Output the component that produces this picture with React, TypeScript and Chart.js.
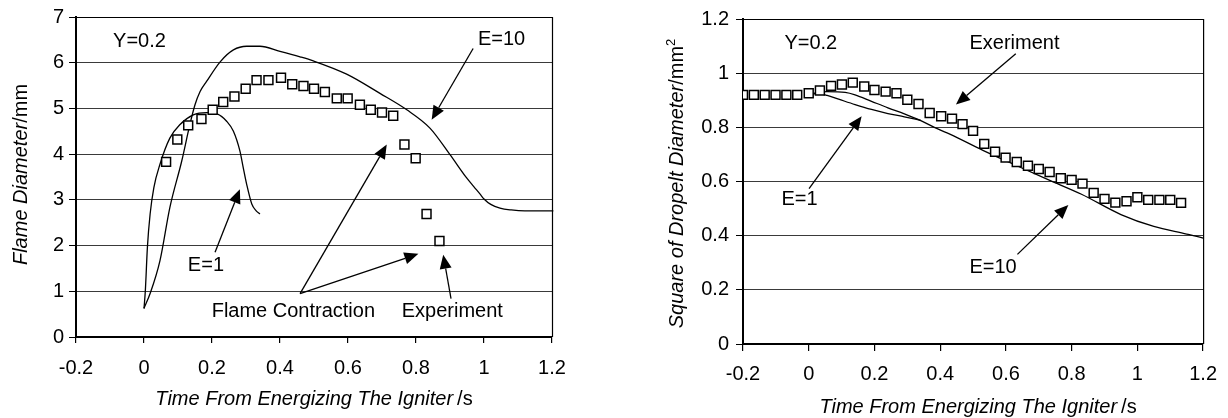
import React, { useEffect, useRef } from 'react';
import { Chart, registerables } from 'chart.js';

Chart.register(...registerables);

const FONT = "'Liberation Sans', Arial, Helvetica, sans-serif";

// ---------- Left chart: flame diameter ----------
const flameExpTime = [0.065, 0.098, 0.13, 0.169, 0.202, 0.233, 0.266, 0.299, 0.331, 0.366, 0.403, 0.436, 0.469, 0.5, 0.532, 0.567, 0.599, 0.635, 0.667, 0.7, 0.733, 0.766, 0.799, 0.831, 0.869];
const flameExpDiam = [3.83, 4.32, 4.63, 4.77, 4.97, 5.14, 5.26, 5.43, 5.62, 5.62, 5.67, 5.53, 5.49, 5.43, 5.36, 5.22, 5.22, 5.08, 4.97, 4.91, 4.84, 4.21, 3.91, 2.69, 2.1];

const flameE1Time = [0, 0.004, 0.01, 0.018, 0.029, 0.047, 0.076, 0.106, 0.145, 0.184, 0.215, 0.243, 0.263, 0.282, 0.292, 0.302, 0.317, 0.33, 0.341];
const flameE1Diam = [0.62, 1.02, 1.96, 2.69, 3.27, 3.78, 4.35, 4.65, 4.86, 4.91, 4.88, 4.72, 4.5, 4.07, 3.7, 3.34, 2.91, 2.76, 2.69];

const flameE10Time = [0, 0.018, 0.047, 0.076, 0.111, 0.135, 0.15, 0.165, 0.184, 0.224, 0.263, 0.302, 0.341, 0.4, 0.459, 0.498, 0.596, 0.694, 0.773, 0.841, 0.9, 0.949, 0.97, 0.988, 1.0, 1.02, 1.047, 1.08, 1.12, 1.16, 1.204, 1.218];
const flameE10Diam = [0.63, 0.95, 1.67, 2.83, 3.85, 4.65, 5.08, 5.37, 5.59, 6.02, 6.28, 6.36, 6.36, 6.25, 6.13, 6.04, 5.75, 5.33, 4.97, 4.57, 3.99, 3.48, 3.29, 3.13, 3.02, 2.9, 2.82, 2.78, 2.76, 2.76, 2.76, 2.8];

const flameYTicks = [0, 1, 2, 3, 4, 5, 6, 7];
const flameYTickLabels = ['0', '1', '2', '3', '4', '5', '6', '7'];

// ---------- Right chart: square of droplet diameter ----------
const dropExpTime = [-0.2, -0.167, -0.134, -0.101, -0.068, -0.035, 0, 0.034, 0.068, 0.101, 0.134, 0.169, 0.2, 0.234, 0.267, 0.3, 0.334, 0.368, 0.403, 0.436, 0.468, 0.5, 0.534, 0.567, 0.599, 0.633, 0.667, 0.7, 0.733, 0.767, 0.8, 0.833, 0.867, 0.9, 0.933, 0.967, 1.0, 1.033, 1.067, 1.1, 1.133];
const dropExpSq = [0.92, 0.92, 0.92, 0.92, 0.92, 0.92, 0.926, 0.936, 0.953, 0.958, 0.965, 0.951, 0.938, 0.932, 0.926, 0.902, 0.886, 0.853, 0.841, 0.832, 0.812, 0.787, 0.739, 0.71, 0.688, 0.672, 0.658, 0.646, 0.635, 0.612, 0.606, 0.592, 0.558, 0.536, 0.522, 0.527, 0.542, 0.532, 0.532, 0.532, 0.521];

const dropE1Time = [0, 0.03, 0.056, 0.091, 0.141, 0.191, 0.241, 0.291, 0.341];
const dropE1Sq = [0.923, 0.924, 0.918, 0.904, 0.884, 0.866, 0.851, 0.839, 0.826];

const dropE10Time = [0, 0.056, 0.111, 0.141, 0.191, 0.241, 0.291, 0.341, 0.391, 0.431, 0.53, 0.63, 0.73, 0.83, 0.95, 1.05, 1.15, 1.2, 1.221];
const dropE10Sq = [0.923, 0.932, 0.929, 0.92, 0.896, 0.872, 0.85, 0.825, 0.795, 0.774, 0.715, 0.66, 0.606, 0.553, 0.478, 0.434, 0.406, 0.391, 0.383];

const dropYTicks = [0, 0.2, 0.4, 0.6, 0.8, 1, 1.2];
const dropYTickLabels = ['0', '0.2', '0.4', '0.6', '0.8', '1', '1.2'];

// ---------- Shared x axis ----------
const timeTicks = [-0.2, 0, 0.2, 0.4, 0.6, 0.8, 1, 1.2];
const timeTickLabels = ['-0.2', '0', '0.2', '0.4', '0.6', '0.8', '1', '1.2'];

// ---------- Annotations (data coordinates: left edge / vertical centre of text) ----------
const flameNotes = [
  { text: 'Y=0.2', t: -0.091, v: 6.46 },
  { text: 'E=10', t: 0.982, v: 6.5 },
  { text: 'E=1', t: 0.129, v: 1.565 },
  { text: 'Flame Contraction', t: 0.199, v: 0.565 },
  { text: 'Experiment', t: 0.758, v: 0.565 },
];
const flameArrows = [
  [0.968, 6.31, 0.846, 4.75],
  [0.209, 1.854, 0.282, 3.233],
  [0.459, 0.95, 0.714, 4.21],
  [0.459, 0.95, 0.807, 1.82],
  [0.903, 0.841, 0.88, 1.8],
];
const dropNotes = [
  { text: 'Y=0.2', t: -0.074, v: 1.109 },
  { text: 'Exeriment', t: 0.489, v: 1.109 },
  { text: 'E=1', t: -0.083, v: 0.532 },
  { text: 'E=10', t: 0.489, v: 0.284 },
];
const dropArrows = [
  [0.63, 1.072, 0.448, 0.884],
  [0.001, 0.574, 0.161, 0.841],
  [0.635, 0.331, 0.79, 0.513],
];

const zip = (xs: number[], ys: number[]) => xs.map((x, i) => ({ x, y: ys[i] }));

function drawArrow(ctx: CanvasRenderingContext2D, x1: number, y1: number, x2: number, y2: number) {
  const ang = Math.atan2(y2 - y1, x2 - x1);
  const L = 14;
  const W = 6;
  const c = Math.cos(ang);
  const s = Math.sin(ang);
  const bx = x2 - L * c;
  const by = y2 - L * s;
  ctx.beginPath();
  ctx.moveTo(x1, y1);
  ctx.lineTo(bx, by);
  ctx.lineWidth = 1.3;
  ctx.stroke();
  ctx.beginPath();
  ctx.moveTo(x2, y2);
  ctx.lineTo(bx + W * s, by - W * c);
  ctx.lineTo(bx - W * s, by + W * c);
  ctx.closePath();
  ctx.fill();
}

const decorPlugin = {
  id: 'decor',
  afterDraw(chart: any, _args: any, opts: any) {
    const { ctx, chartArea: ca, scales } = chart;
    const xs = scales.x;
    const ys = scales.y;
    ctx.save();
    ctx.strokeStyle = '#000';
    ctx.fillStyle = '#000';
    // top and right frame
    ctx.lineWidth = 1.2;
    ctx.beginPath();
    ctx.moveTo(ca.left, ca.top + 0.5);
    ctx.lineTo(ca.right + 0.5, ca.top + 0.5);
    ctx.lineTo(ca.right + 0.5, ca.bottom);
    ctx.stroke();

    // notes
    ctx.font = `20px ${FONT}`;
    ctx.textAlign = 'left';
    ctx.textBaseline = 'middle';
    for (const n of opts.notes) {
      ctx.fillText(n.text, xs.getPixelForValue(n.t), ys.getPixelForValue(n.v));
    }
    for (const a of opts.arrows) {
      drawArrow(ctx, xs.getPixelForValue(a[0]), ys.getPixelForValue(a[1]), xs.getPixelForValue(a[2]), ys.getPixelForValue(a[3]));
    }

    // x title
    const xt = opts.xTitle;
    ctx.textBaseline = 'alphabetic';
    ctx.font = `italic 20px ${FONT}`;
    const w1 = ctx.measureText(xt.italic).width;
    ctx.font = `20px ${FONT}`;
    const w2 = ctx.measureText(xt.normal).width;
    const gap = 4;
    const cx = (ca.left + ca.right) / 2 + xt.dx;
    const sx = cx - (w1 + gap + w2) / 2;
    const by = ca.bottom + xt.dy;
    ctx.font = `italic 20px ${FONT}`;
    ctx.fillText(xt.italic, sx, by);
    ctx.font = `20px ${FONT}`;
    ctx.fillText(xt.normal, sx + w1 + gap, by);

    // y title (rotated)
    const yt = opts.yTitle;
    ctx.font = `italic 20px ${FONT}`;
    const v1 = ctx.measureText(yt.italic).width;
    ctx.font = `20px ${FONT}`;
    const v2 = ctx.measureText(yt.normal).width;
    let v3 = 0;
    if (yt.sup) {
      ctx.font = `13px ${FONT}`;
      v3 = ctx.measureText(yt.sup).width;
    }
    const total = v1 + v2 + v3;
    ctx.translate(yt.x, (ca.top + ca.bottom) / 2 + yt.dy);
    ctx.rotate(-Math.PI / 2);
    let px = -total / 2;
    ctx.font = `italic 20px ${FONT}`;
    ctx.fillText(yt.italic, px, 0);
    px += v1;
    ctx.font = `20px ${FONT}`;
    ctx.fillText(yt.normal, px, 0);
    px += v2;
    if (yt.sup) {
      ctx.font = `13px ${FONT}`;
      ctx.fillText(yt.sup, px, -8);
    }
    ctx.restore();
  },
};

function makeConfig(p: any): any {
  const lineDs = (data: any[], clip: boolean) => ({
    data,
    showLine: true,
    pointRadius: 0,
    borderColor: '#000',
    borderWidth: 1.3,
    cubicInterpolationMode: 'monotone',
    fill: false,
    clip: clip ? undefined : false,
  });
  return {
    type: 'scatter',
    data: {
      datasets: [
        {
          data: p.exp,
          showLine: false,
          pointStyle: 'rect',
          pointRadius: 6.3,
          pointBackgroundColor: '#fff',
          pointBorderColor: '#000',
          pointBorderWidth: 1.5,
        },
        lineDs(p.e1, true),
        lineDs(p.e10, false),
      ],
    },
    plugins: [decorPlugin],
    options: {
      responsive: false,
      animation: false,
      devicePixelRatio: 1,
      events: [],
      layout: { padding: { top: p.padTop, right: p.padRight, left: 0, bottom: 0 } },
      plugins: {
        legend: { display: false },
        tooltip: { enabled: false },
        decor: p.decor,
      },
      scales: {
        x: {
          type: 'linear',
          min: -0.2,
          max: 1.2,
          afterBuildTicks: (s: any) => {
            s.ticks = timeTicks.map((v) => ({ value: v }));
          },
          afterFit: (s: any) => {
            s.height = p.xAxisH;
          },
          ticks: {
            autoSkip: false,
            maxRotation: 0,
            color: '#000',
            padding: p.xPad,
            font: { family: FONT, size: 20 },
            callback: (_v: any, i: number) => timeTickLabels[i],
          },
          grid: { drawOnChartArea: false, tickLength: p.xTick, color: '#000', tickColor: '#000', lineWidth: 1.2 },
          border: { display: true, color: '#000', width: 2 },
        },
        y: {
          type: 'linear',
          min: p.yTicks[0],
          max: p.yTicks[p.yTicks.length - 1],
          afterBuildTicks: (s: any) => {
            s.ticks = p.yTicks.map((v: number) => ({ value: v }));
          },
          afterFit: (s: any) => {
            s.width = p.yAxisW;
          },
          ticks: {
            autoSkip: false,
            color: '#000',
            padding: p.yPad,
            font: { family: FONT, size: 20 },
            callback: (_v: any, i: number) => p.yLabels[i],
          },
          grid: { color: '#3a3a3a', lineWidth: 1, tickLength: 7, tickColor: '#000' },
          border: { display: true, color: '#000', width: 2 },
        },
      },
    },
  };
}

export default function App() {
  const leftRef = useRef<HTMLCanvasElement>(null);
  const rightRef = useRef<HTMLCanvasElement>(null);

  useEffect(() => {
    const left = new Chart(
      leftRef.current as HTMLCanvasElement,
      makeConfig({
        exp: zip(flameExpTime, flameExpDiam),
        e1: zip(flameE1Time, flameE1Diam),
        e10: zip(flameE10Time, flameE10Diam),
        yTicks: flameYTicks,
        yLabels: flameYTickLabels,
        padTop: 15,
        padRight: 62,
        xAxisH: 81,
        yAxisW: 76,
        xPad: 13,
        xTick: 6,
        yPad: 5,
        decor: {
          notes: flameNotes,
          arrows: flameArrows,
          xTitle: { italic: 'Time From Energizing The Igniter', normal: '/s', dx: 0, dy: 67.5 },
          yTitle: { italic: 'Flame Diameter', normal: '/mm', sup: '', x: 27, dy: -2.5 },
        },
      })
    );
    const right = new Chart(
      rightRef.current as HTMLCanvasElement,
      makeConfig({
        exp: zip(dropExpTime, dropExpSq),
        e1: zip(dropE1Time, dropE1Sq),
        e10: zip(dropE10Time, dropE10Sq),
        yTicks: dropYTicks,
        yLabels: dropYTickLabels,
        padTop: 15,
        padRight: 18,
        xAxisH: 74,
        yAxisW: 129,
        xPad: 11,
        xTick: 7,
        yPad: 7,
        decor: {
          notes: dropNotes,
          arrows: dropArrows,
          xTitle: { italic: 'Time From Energizing The Igniter', normal: '/s', dx: 5, dy: 69 },
          yTitle: { italic: 'Square of Dropelt Diameter', normal: '/mm', sup: '2', x: 69, dy: 2 },
        },
      })
    );
    return () => {
      left.destroy();
      right.destroy();
    };
  }, []);

  return (
    <div style={{ position: 'absolute', left: 0, top: 0, width: 1228, height: 418, background: '#fff' }}>
      <canvas ref={leftRef} width={614} height={418} style={{ position: 'absolute', left: 0, top: 0, width: 614, height: 418 }} />
      <canvas ref={rightRef} width={614} height={418} style={{ position: 'absolute', left: 614, top: 0, width: 614, height: 418 }} />
    </div>
  );
}
